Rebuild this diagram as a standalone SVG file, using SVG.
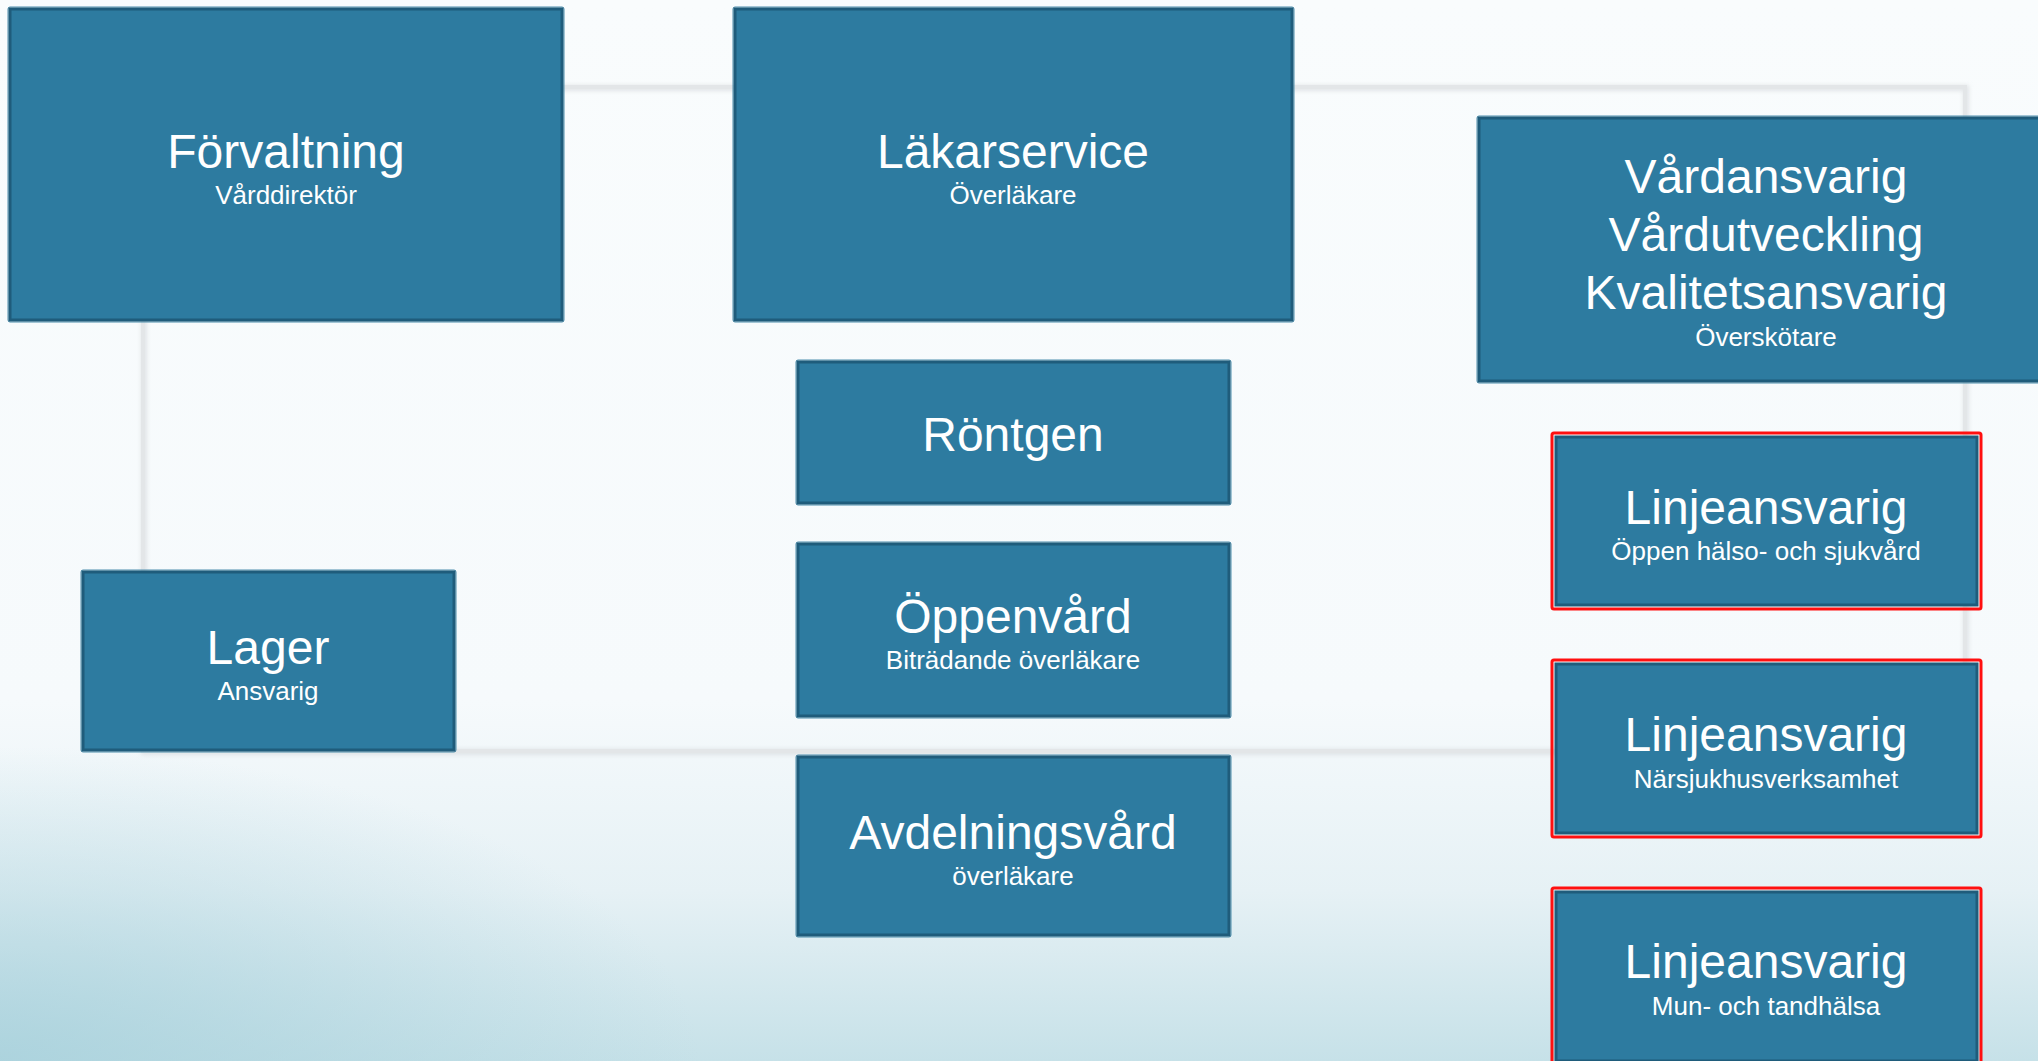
<svg xmlns="http://www.w3.org/2000/svg" width="2038" height="1061" viewBox="0 0 2038 1061">
<defs>
<linearGradient id="bg" x1="0" y1="0" x2="0" y2="1">
<stop offset="0" stop-color="#f9fcfd"/>
<stop offset="0.66" stop-color="#f6fafc"/>
<stop offset="0.84" stop-color="#e6f1f5"/>
<stop offset="1" stop-color="#c6e1e8"/>
</linearGradient>
<radialGradient id="bl" gradientUnits="userSpaceOnUse" cx="0" cy="1061" r="700" gradientTransform="translate(0,1061) scale(1,0.45) translate(0,-1061)">
<stop offset="0" stop-color="#a6d0db" stop-opacity="0.8"/>
<stop offset="1" stop-color="#a6d0db" stop-opacity="0"/>
</radialGradient>
<filter id="sh" x="-5%" y="-5%" width="110%" height="110%">
<feGaussianBlur stdDeviation="2"/>
</filter>
</defs>
<style>
.box{fill:#2d7ba0;stroke:#1f5c7b;stroke-width:3}
.outer{fill:none;stroke:#4d8fae;stroke-width:1}
.red{fill:none;stroke:#ff1010;stroke-width:3}
.t{font-family:"Liberation Sans",Arial,sans-serif;fill:#ffffff;text-anchor:middle}
.t1{font-size:48px}
.t2{font-size:26px}
.frame{fill:none;stroke:#e3e6e8;stroke-width:4}
.frameS{fill:none;stroke:#d2d6d9;stroke-width:6;opacity:0.6}
</style>
<rect width="2038" height="1061" fill="url(#bg)"/>
<rect width="2038" height="1061" fill="url(#bl)"/>
<g id="connectors">
<rect class="frameS" x="144" y="88" width="1822" height="664" filter="url(#sh)"/>
<rect class="frame" x="143" y="87" width="1822" height="664"/>
</g>
<g id="forvaltning">
<rect class="outer" x="8" y="7" width="556" height="315" rx="2"/>
<rect class="box" x="10" y="9" width="552" height="311"/>
<text class="t t1" x="286" y="168">Förvaltning</text>
<text class="t t2" x="286" y="204">Vårddirektör</text>
</g>
<g id="lakarservice">
<rect class="outer" x="733" y="7" width="561" height="315" rx="2"/>
<rect class="box" x="735" y="9" width="557" height="311"/>
<text class="t t1" x="1013" y="168">Läkarservice</text>
<text class="t t2" x="1013" y="204">Överläkare</text>
</g>
<g id="vardansvarig">
<rect class="outer" x="1477" y="116" width="580" height="267" rx="2"/>
<rect class="box" x="1479" y="118" width="576" height="263"/>
<text class="t t1" x="1766" y="193">Vårdansvarig</text>
<text class="t t1" x="1766" y="251">Vårdutveckling</text>
<text class="t t1" x="1766" y="309">Kvalitetsansvarig</text>
<text class="t t2" x="1766" y="346">Överskötare</text>
</g>
<g id="rontgen">
<rect class="outer" x="796" y="360" width="435" height="145" rx="2"/>
<rect class="box" x="798" y="362" width="431" height="141"/>
<text class="t t1" x="1013" y="451">Röntgen</text>
</g>
<g id="oppenvard">
<rect class="outer" x="796" y="542" width="435" height="176" rx="2"/>
<rect class="box" x="798" y="544" width="431" height="172"/>
<text class="t t1" x="1013" y="633">Öppenvård</text>
<text class="t t2" x="1013" y="669">Biträdande överläkare</text>
</g>
<g id="avdelningsvard">
<rect class="outer" x="796" y="755" width="435" height="182" rx="2"/>
<rect class="box" x="798" y="757" width="431" height="178"/>
<text class="t t1" x="1013" y="849">Avdelningsvård</text>
<text class="t t2" x="1013" y="885">överläkare</text>
</g>
<g id="lager">
<rect class="outer" x="81" y="570" width="375" height="182" rx="2"/>
<rect class="box" x="83" y="572" width="371" height="178"/>
<text class="t t1" x="268" y="664">Lager</text>
<text class="t t2" x="268" y="700">Ansvarig</text>
</g>
<g id="linje1">
<rect class="red" x="1552" y="433" width="429" height="176" rx="2"/>
<rect class="box" x="1556" y="437" width="421" height="168"/>
<text class="t t1" x="1766" y="524">Linjeansvarig</text>
<text class="t t2" x="1766" y="560">Öppen hälso- och sjukvård</text>
</g>
<g id="linje2">
<rect class="red" x="1552" y="660" width="429" height="177" rx="2"/>
<rect class="box" x="1556" y="664" width="421" height="169"/>
<text class="t t1" x="1766" y="751">Linjeansvarig</text>
<text class="t t2" x="1766" y="788">Närsjukhusverksamhet</text>
</g>
<g id="linje3">
<rect class="red" x="1552" y="888" width="429" height="177" rx="2"/>
<rect class="box" x="1556" y="892" width="421" height="169"/>
<text class="t t1" x="1766" y="978">Linjeansvarig</text>
<text class="t t2" x="1766" y="1015">Mun- och tandhälsa</text>
</g>
</svg>
